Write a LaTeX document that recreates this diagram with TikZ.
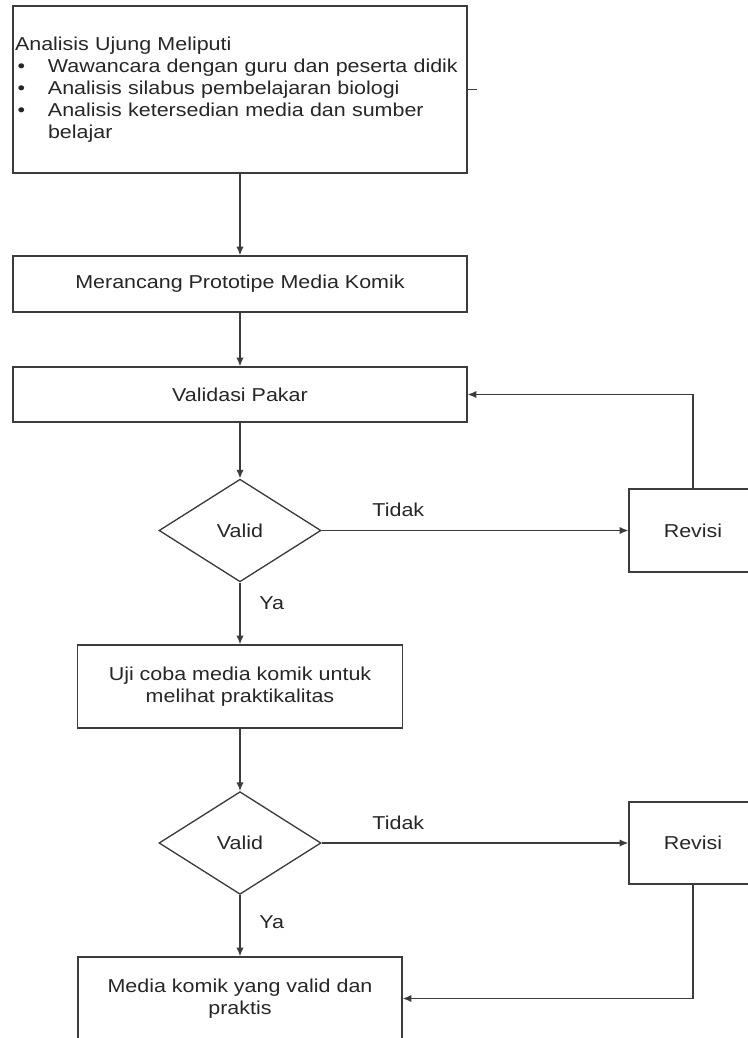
\documentclass[tikz,border=0pt]{standalone}
\usepackage{fontspec}
\setmainfont[FakeStretch=1.15]{Liberation Sans}
\usetikzlibrary{shapes.geometric,arrows.meta}
\definecolor{garis}{HTML}{3C3C3C}
\definecolor{tulis}{HTML}{262626}
\newcommand{\butir}{\makebox[24.75pt][l]{\hspace{2pt}\textbullet}}

\begin{document}
\begin{tikzpicture}[x=0.75pt, y=-0.75pt,
    every node/.style={font=\fontsize{14}{16.5}\selectfont, text=tulis},
    kotak/.style={draw=garis, line width=1pt, rectangle, inner sep=0pt, align=center},
    belah/.style={draw=garis, line width=1pt, diamond, inner sep=0pt,
        minimum width=121.5pt, minimum height=77pt},
    panah/.style={draw=garis, line width=1pt, -{Latex[length=6.5pt,width=5.5pt]}},
    ket/.style={inner sep=0pt}]
\useasboundingbox (0,0) rectangle (747,1038);

\node[kotak, minimum width=340.5pt, minimum height=125.25pt, text width=337.5pt, align=left] (ana) at (240,89.5)
    {Analisis Ujung Meliputi\\
     \butir Wawancara dengan guru dan peserta didik\\
     \butir Analisis silabus pembelajaran biologi\\
     \butir Analisis ketersedian media dan sumber\\
     \hspace*{24.75pt}belajar};
\node[kotak, minimum width=340.5pt, minimum height=42pt] (ran) at (240,284) {Merancang Prototipe Media Komik};
\node[kotak, minimum width=340.5pt, minimum height=41.25pt] (val) at (240,394.5) {Validasi Pakar};
\node[belah] (dv1) at (240,530.5) {Valid};
\node[kotak, minimum width=96pt, minimum height=62.25pt] (rev1) at (693,530.5) {Revisi};
\node[kotak, minimum width=243.75pt, minimum height=62.25pt] (uji) at (240,686.5) {Uji coba media komik untuk\\ melihat praktikalitas};
\node[belah] (dv2) at (240,843) {Valid};
\node[kotak, minimum width=96pt, minimum height=61.5pt] (rev2) at (693,843) {Revisi};
\node[kotak, minimum width=243pt, minimum height=62.25pt] (hasil) at (240,998.5) {Media komik yang valid dan\\ praktis};

% tanda kecil di sisi kanan kotak pertama
\draw[draw=garis, line width=1pt] (ana.east) -- ++(9,0);

\draw[panah] (ana) -- (ran);
\draw[panah] (ran) -- (val);
\draw[panah] (val) -- (dv1);
\draw[panah] (dv1) -- node[ket, pos=.25, above=9.5pt]{Tidak} (rev1);
\draw[panah] (rev1.north) |- (val.east);
\draw[panah] (dv1) -- node[ket, pos=.33, right=14pt]{Ya} (uji);
\draw[panah] (uji) -- (dv2);
\draw[panah] (dv2) -- node[ket, pos=.25, above=9.5pt]{Tidak} (rev2);
\draw[panah] (rev2.south) |- (hasil.east);
\draw[panah] (dv2) -- node[ket, pos=.44, right=14pt]{Ya} (hasil);
\end{tikzpicture}
\end{document}
